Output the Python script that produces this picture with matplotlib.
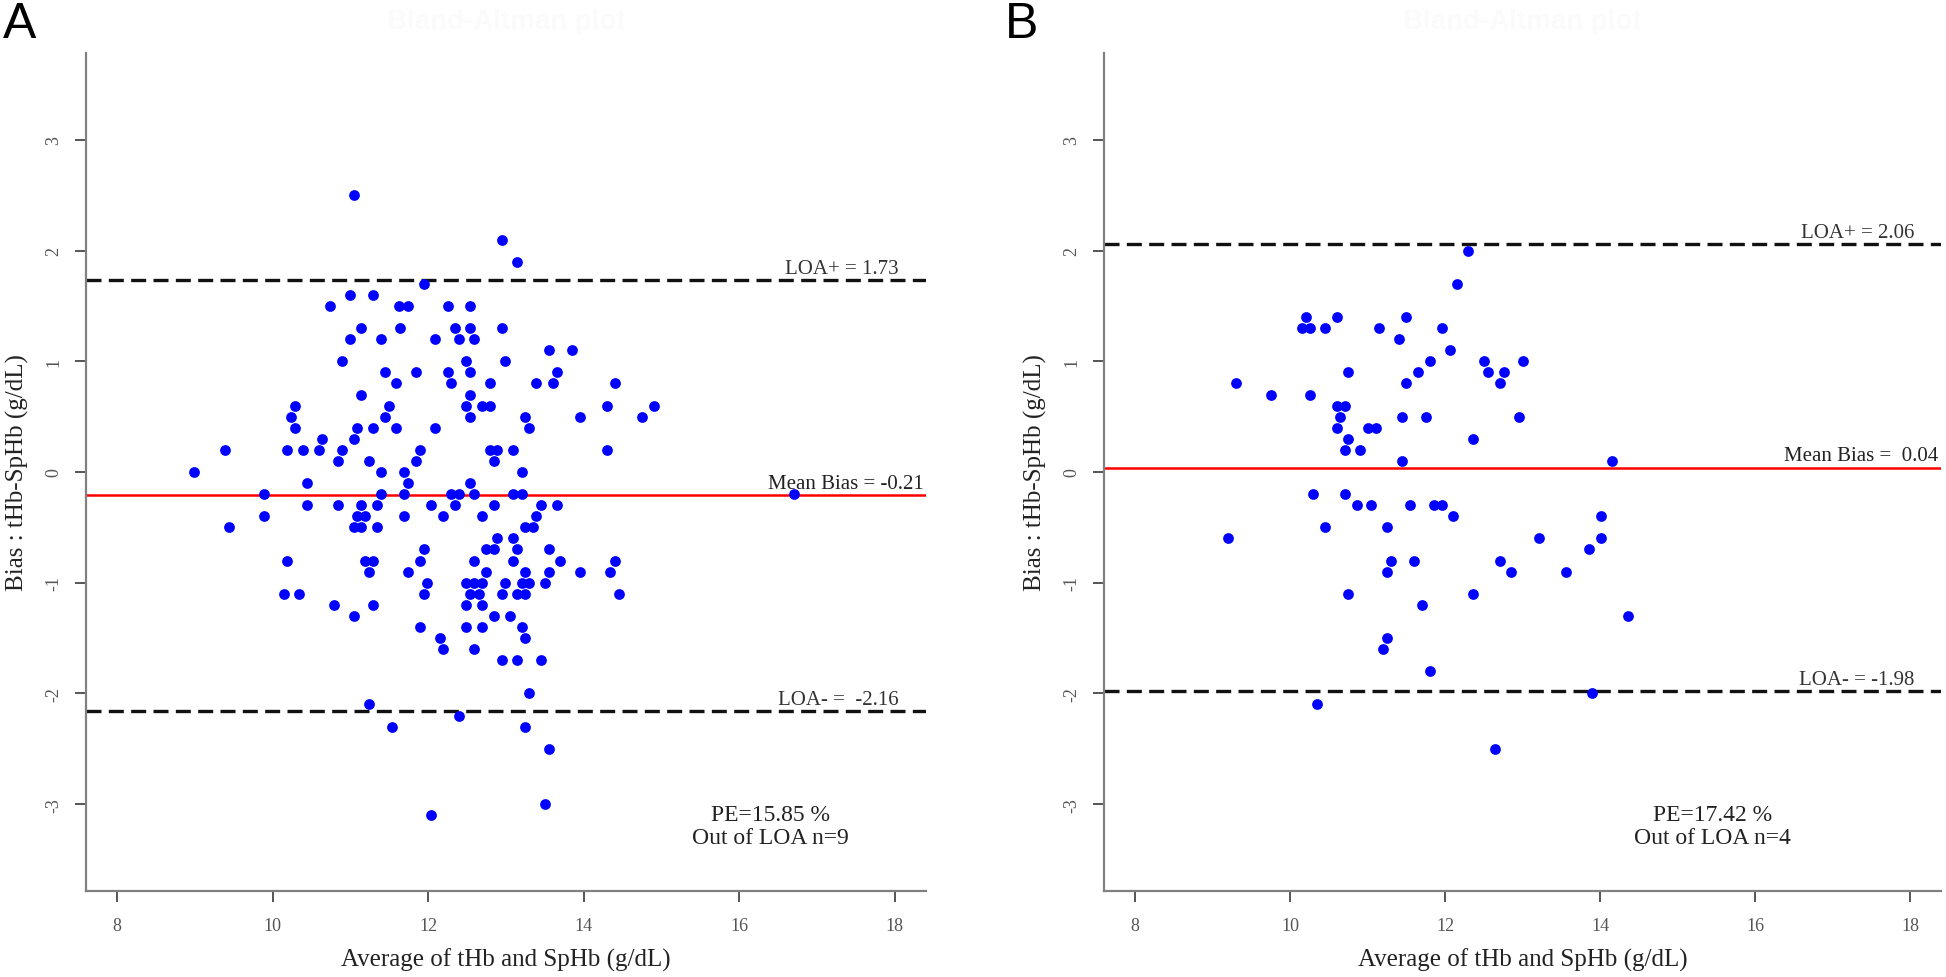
import matplotlib.pyplot as plt

plt.rcParams['font.family'] = 'Liberation Serif'
plt.rcParams['axes.unicode_minus'] = False

# ---- panel A : average of tHb and SpHb vs bias ----
avg_a = [11.04, 12.95, 13.14, 11.94,
         10.99, 11.29,
         10.74, 11.63, 11.74, 12.25, 12.54,
         11.14, 11.64, 12.34, 12.54, 12.95,
         10.99, 11.39, 12.09, 12.40, 12.59,
         13.55, 13.85,
         10.89, 12.49, 12.99,
         11.44, 11.84, 12.25, 12.54, 13.65,
         11.59, 12.29, 12.80, 13.39, 13.60, 14.40,
         11.14, 12.54,
         10.29, 11.49, 12.49, 12.69, 12.80, 14.30, 14.90,
         10.24, 11.44, 12.54, 13.25, 13.95, 14.75,
         10.29, 11.09, 11.29, 11.59, 12.09, 13.29,
         10.64, 11.04,
         9.39, 10.19, 10.39, 10.59, 10.89, 11.89, 12.80, 12.89, 13.09, 14.30,
         10.84, 11.24, 11.84, 12.84,
         8.99, 11.39, 11.69, 13.20,
         10.44, 11.74, 12.54,
         9.89, 11.39, 11.69, 12.29, 12.40, 12.59, 13.09, 13.20, 16.70,
         10.44, 10.84, 11.14, 11.34, 12.04, 12.34, 12.84, 13.45, 13.65,
         9.89, 11.09, 11.19, 11.69, 12.19, 12.69, 13.39,
         9.44, 11.04, 11.14, 11.34, 13.25, 13.35,
         12.89, 13.09,
         11.94, 12.74, 12.84, 13.14, 13.55,
         10.19, 11.19, 11.29, 11.89, 12.59, 13.09, 13.69, 14.40,
         11.24, 11.74, 12.74, 13.25, 13.55, 13.95, 14.34,
         11.99, 12.49, 12.59, 12.69, 12.99, 13.20, 13.29, 13.50,
         10.14, 10.34, 11.94, 12.54, 12.65, 12.95, 13.14, 13.25, 14.45,
         10.79, 11.29, 12.49, 12.69,
         11.04, 12.84, 13.05,
         11.89, 12.49, 12.69, 13.20,
         12.15, 13.25,
         12.19, 12.59,
         12.95, 13.14, 13.45,
         13.29, 11.24, 12.40, 11.54, 13.25, 13.55, 13.50, 12.04]
bias_a = [2.5, 2.1, 1.9, 1.7,
          1.6, 1.6,
          1.5, 1.5, 1.5, 1.5, 1.5,
          1.3, 1.3, 1.3, 1.3, 1.3,
          1.2, 1.2, 1.2, 1.2, 1.2,
          1.1, 1.1,
          1.0, 1.0, 1.0,
          0.9, 0.9, 0.9, 0.9, 0.9,
          0.8, 0.8, 0.8, 0.8, 0.8, 0.8,
          0.7, 0.7,
          0.6, 0.6, 0.6, 0.6, 0.6, 0.6, 0.6,
          0.5, 0.5, 0.5, 0.5, 0.5, 0.5,
          0.4, 0.4, 0.4, 0.4, 0.4, 0.4,
          0.3, 0.3,
          0.2, 0.2, 0.2, 0.2, 0.2, 0.2, 0.2, 0.2, 0.2, 0.2,
          0.1, 0.1, 0.1, 0.1,
          0.0, 0.0, 0.0, 0.0,
          -0.1, -0.1, -0.1,
          -0.2, -0.2, -0.2, -0.2, -0.2, -0.2, -0.2, -0.2, -0.2,
          -0.3, -0.3, -0.3, -0.3, -0.3, -0.3, -0.3, -0.3, -0.3,
          -0.4, -0.4, -0.4, -0.4, -0.4, -0.4, -0.4,
          -0.5, -0.5, -0.5, -0.5, -0.5, -0.5,
          -0.6, -0.6,
          -0.7, -0.7, -0.7, -0.7, -0.7,
          -0.8, -0.8, -0.8, -0.8, -0.8, -0.8, -0.8, -0.8,
          -0.9, -0.9, -0.9, -0.9, -0.9, -0.9, -0.9,
          -1.0, -1.0, -1.0, -1.0, -1.0, -1.0, -1.0, -1.0,
          -1.1, -1.1, -1.1, -1.1, -1.1, -1.1, -1.1, -1.1, -1.1,
          -1.2, -1.2, -1.2, -1.2,
          -1.3, -1.3, -1.3,
          -1.4, -1.4, -1.4, -1.4,
          -1.5, -1.5,
          -1.6, -1.6,
          -1.7, -1.7, -1.7,
          -2.0, -2.1, -2.2, -2.3, -2.3, -2.5, -3.0, -3.1]
mean_a, loa_hi_a, loa_lo_a = -0.21, 1.73, -2.16

# ---- panel B ----
avg_b = [12.30, 12.16,
         10.20, 10.61, 11.50,
         10.15, 10.26, 10.45, 11.15, 11.96,
         11.40, 12.06,
         11.81, 12.50, 13.01,
         10.75, 11.65, 12.56, 12.76,
         9.30, 11.50, 12.71,
         9.75, 10.26,
         10.61, 10.71,
         10.65, 11.45, 11.76, 12.96,
         10.61, 11.00, 11.11,
         10.75, 12.36,
         10.71, 10.90,
         11.45, 14.16,
         10.30, 10.71,
         10.86, 11.05, 11.55, 11.86, 11.96,
         12.10, 14.01,
         10.45, 11.25,
         9.20, 13.21, 14.01,
         13.86,
         11.30, 11.60, 12.71,
         11.25, 12.85, 13.56,
         10.75, 12.36,
         11.70, 14.36, 11.25, 11.20, 11.80, 13.90, 10.35, 12.65]
bias_b = [2.0, 1.7,
          1.4, 1.4, 1.4,
          1.3, 1.3, 1.3, 1.3, 1.3,
          1.2, 1.1,
          1.0, 1.0, 1.0,
          0.9, 0.9, 0.9, 0.9,
          0.8, 0.8, 0.8,
          0.7, 0.7,
          0.6, 0.6,
          0.5, 0.5, 0.5, 0.5,
          0.4, 0.4, 0.4,
          0.3, 0.3,
          0.2, 0.2,
          0.1, 0.1,
          -0.2, -0.2,
          -0.3, -0.3, -0.3, -0.3, -0.3,
          -0.4, -0.4,
          -0.5, -0.5,
          -0.6, -0.6, -0.6,
          -0.7,
          -0.8, -0.8, -0.8,
          -0.9, -0.9, -0.9,
          -1.1, -1.1,
          -1.2, -1.3, -1.5, -1.6, -1.8, -2.0, -2.1, -2.5]
mean_b, loa_hi_b, loa_lo_b = 0.04, 2.06, -1.98

x_ticks = [8, 10, 12, 14, 16, 18]
y_ticks = [-3, -2, -1, 0, 1, 2, 3]

fig = plt.figure(figsize=(19.46, 9.78), dpi=100)
W, H = 1946, 978
ax_a = fig.add_axes([86 / W, 86 / H, 840 / W, 838 / H])
ax_b = fig.add_axes([1104 / W, 86 / H, 837 / W, 838 / H])


def draw(ax, avg, bias, mean, hi, lo, lbl_hi, lbl_mean, lbl_lo, note, note_x):
    ax.set_xlim(7.6, 18.4)
    ax.set_ylim(-3.785, 3.785)
    ax.axhline(hi, color='#111111', lw=2.4, dashes=(4.5, 2.2), zorder=1)
    ax.axhline(lo, color='#111111', lw=2.4, dashes=(4.5, 2.2), zorder=1)
    ax.axhline(mean, color='#ff0000', lw=1.8, zorder=1)
    ax.scatter(avg, bias, s=60, color='#0000ff', linewidths=0, zorder=2)

    ax.text(18.05, hi + 0.02, lbl_hi, ha='right', va='bottom', fontsize=15, color='#333333')
    ax.text(18.37, mean + 0.02, lbl_mean, ha='right', va='bottom', fontsize=15, color='#222222')
    ax.text(18.05, lo + 0.02, lbl_lo, ha='right', va='bottom', fontsize=15, color='#333333')
    ax.text(note_x, -3.2, note, ha='center', va='center', fontsize=17,
            color='#222222', linespacing=1.1)

    for s in ['top', 'right']:
        ax.spines[s].set_visible(False)
    for s in ['left', 'bottom']:
        ax.spines[s].set_color('#808080')
        ax.spines[s].set_linewidth(1.6)
    ax.set_xticks(x_ticks, labels=[str(t) for t in x_ticks])
    ax.set_yticks(y_ticks, labels=[str(t) for t in y_ticks])
    ax.tick_params(length=8, width=1.4, color='#555555', labelcolor='#555555',
                   labelsize=13)
    ax.tick_params(axis='x', pad=11)
    ax.tick_params(axis='y', pad=9)
    for t in ax.get_yticklabels():
        t.set_rotation(90)
        t.set_va('center')

    ax.set_xlabel('Average of tHb and SpHb (g/dL)', fontsize=18, color='#222222')
    ax.set_ylabel('Bias : tHb-SpHb (g/dL)', fontsize=18, color='#222222')
    ax.xaxis.set_label_coords(0.5, -0.068)
    ax.yaxis.set_label_coords(-0.068, 0.5)


draw(ax_a, avg_a, bias_a, mean_a, loa_hi_a, loa_lo_a,
     'LOA+ = 1.73', 'Mean Bias = -0.21', 'LOA- =  -2.16',
     'PE=15.85 %\nOut of LOA n=9', 16.4)
draw(ax_b, avg_b, bias_b, mean_b, loa_hi_b, loa_lo_b,
     'LOA+ = 2.06', 'Mean Bias =  0.04', 'LOA- = -1.98',
     'PE=17.42 %\nOut of LOA n=4', 15.45)

# panel letters and the (almost invisible) titles
fig.text(3 / W, 1 - 2 / H, 'A', fontsize=36, family='Liberation Sans', ha='left', va='top')
fig.text(1005 / W, 1 - 2 / H, 'B', fontsize=36, family='Liberation Sans', ha='left', va='top')
fig.text(506 / W, 1 - 22 / H, 'Bland-Altman plot', fontsize=20, weight='bold',
         family='Liberation Sans', color='#fbfbfb', ha='center', va='center')
fig.text(1522 / W, 1 - 22 / H, 'Bland-Altman plot', fontsize=20, weight='bold',
         family='Liberation Sans', color='#fbfbfb', ha='center', va='center')

fig.savefig('out.png', dpi=100)
